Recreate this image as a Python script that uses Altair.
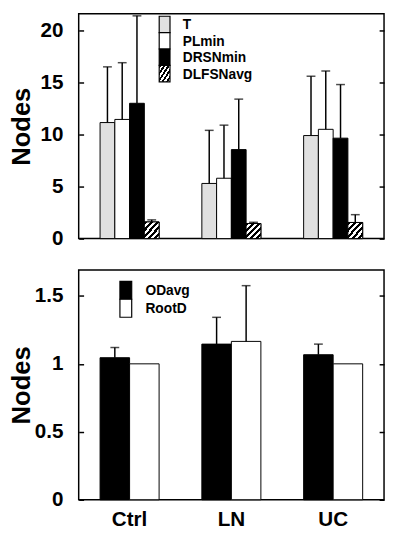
import altair as alt
import pandas as pd

FONT = "Liberation Sans"

groups = ["Ctrl", "LN", "UC"]

# Top panel
top_series = ["T", "PLmin", "DRSNmin", "DLFSNavg"]
top_colors = ["#e0e0e0", "#ffffff", "#000000", "#ffffff"]
t_mean = [11.15, 5.3, 9.9]
t_sd = [5.35, 5.1, 5.7]
pl_mean = [11.45, 5.8, 10.5]
pl_sd = [5.45, 5.1, 5.6]
drsn_mean = [13.0, 8.55, 9.65]
drsn_sd = [8.4, 4.85, 5.15]
dlfs_mean = [1.6, 1.45, 1.55]
dlfs_sd = [0.2, 0.12, 0.75]

# Bottom panel
bot_series = ["ODavg", "RootD"]
bot_colors = ["#000000", "#ffffff"]
od_mean = [1.045, 1.145, 1.067]
od_sd = [0.075, 0.197, 0.078]
root_mean = [1.0, 1.165, 1.0]
root_sd = [0.0, 0.41, 0.0]

top_ticks = [0, 5, 10, 15, 20]
bot_ticks = [0, 0.5, 1, 1.5]


def make_df(series, means, sds):
    rows = []
    for s, m, d in zip(series, means, sds):
        for g, mv, dv in zip(groups, m, d):
            rows.append({"group": g, "series": s, "mean": mv, "sd": dv, "upper": mv + dv})
    return pd.DataFrame(rows)


top_df = make_df(top_series, [t_mean, pl_mean, drsn_mean, dlfs_mean], [t_sd, pl_sd, drsn_sd, dlfs_sd])
bot_df = make_df(bot_series, [od_mean, root_mean], [od_sd, root_sd])

hatch = alt.LinearGradient(
    gradient="linear",
    x1=0, y1=0, x2=1, y2=1,
    stops=sum([[alt.GradientStop(color="black", offset=k / 5),
                alt.GradientStop(color="black", offset=(k + 0.5) / 5),
                alt.GradientStop(color="white", offset=(k + 0.5) / 5),
                alt.GradientStop(color="white", offset=(k + 1) / 5)] for k in range(5)], []),
)


def left_axis(values, fmt, height):
    return alt.Axis(orient="left", values=values, format=fmt, offset=-5, tickSize=5, tickWidth=1.5,
                    tickColor="black", domain=False, grid=False, labelFont=FONT, labelFontSize=21,
                    labelFontWeight="bold", labelColor="black", labelPadding=16, minExtent=0,
                    title="Nodes", titleFont=FONT, titleFontSize=26, titleFontWeight="bold",
                    titleColor="black", titleX=-55, titleY=height / 2, titleAngle=270,
                    titleBaseline="alphabetic", titleAlign="center")


def right_axis(values):
    return alt.Axis(orient="right", values=values, offset=-5, tickSize=5, tickWidth=1.5,
                    tickColor="black", domain=False, grid=False, labels=False, title="",
                    minExtent=0, maxExtent=0, labelPadding=0, titlePadding=0)


def panel(df, series, colors, domain_max, height, ticks, fmt, show_x, legend_spec, hatched):
    xscale = alt.Scale(domain=groups, paddingInner=0.42, paddingOuter=0.21)
    if show_x:
        xaxis = alt.Axis(labelFont=FONT, labelFontSize=21, labelFontWeight="bold", labelColor="black",
                         labelAngle=0, labelPadding=9, ticks=False, tickSize=0, domain=False,
                         minExtent=0, title=None)
        x = alt.X("group:N", scale=xscale, axis=xaxis, title="")
    else:
        x = alt.X("group:N", scale=xscale, axis=None)
    xo = alt.XOffset("series:N", scale=alt.Scale(domain=series, paddingInner=0, paddingOuter=0))
    yscale = alt.Scale(domain=[0, domain_max], nice=False, zero=True)
    base = alt.Chart(df)
    bars = base.mark_bar(stroke="black", strokeWidth=1).encode(
        x=x, xOffset=xo,
        y=alt.Y("mean:Q", scale=yscale, axis=left_axis(ticks, fmt, height)),
        fill=alt.Fill("series:N", scale=alt.Scale(domain=series, range=colors), legend=None),
    )
    layers = [bars]
    if hatched:
        hb = base.transform_filter(alt.datum.series == hatched).mark_bar(
            fill=hatch, stroke="black", strokeWidth=1).encode(
            x=x, xOffset=xo, y=alt.Y("mean:Q", scale=yscale, axis=None))
        layers.append(hb)
    errbase = base.transform_filter(alt.datum.sd > 0)
    stem = errbase.mark_rule(color="black", strokeWidth=1.5).encode(
        x=x, xOffset=xo, y=alt.Y("mean:Q", scale=yscale, axis=None), y2="upper:Q")
    cap = errbase.mark_tick(color="black", size=9, thickness=1.5).encode(
        x=x, xOffset=xo, y=alt.Y("upper:Q", scale=yscale, axis=right_axis(ticks)))
    layers += [stem, cap]

    # legend
    lx, lw, ly0, lh, tx = legend_spec
    one = alt.Data(values=[{"k": 0}])
    for i, (s, c) in enumerate(zip(series, colors)):
        fill = hatch if s == hatched else c
        rect = alt.Chart(one).mark_rect(fill=fill, stroke="black", strokeWidth=1.2).encode(
            x=alt.value(lx), x2=alt.value(lx + lw),
            y=alt.value(ly0 + i * lh), y2=alt.value(ly0 + (i + 1) * lh))
        txt = alt.Chart(one).mark_text(text=s, align="left", baseline="middle", font=FONT,
                                       fontSize=14, fontWeight="bold", color="black").encode(
            x=alt.value(tx), y=alt.value(ly0 + (i + 0.5) * lh + 1))
        layers += [rect, txt]
    return alt.layer(*layers).properties(
        width=311, height=height,
        view=alt.ViewBackground(stroke="black", strokeWidth=1.5, fill="white"),
    )


top = panel(top_df, top_series, top_colors, 21.6, 229, top_ticks, "d", False,
            (82, 11, 2.5, 16.7, 106), "DLFSNavg")
bottom = panel(bot_df, bot_series, bot_colors, 1.69, 234, bot_ticks, ".1~f", True,
               (42, 12, 11.5, 18.3, 68), None)

chart = alt.vconcat(top, bottom, spacing=32, bounds="flush").resolve_scale(
    x="independent", y="independent", xOffset="independent", fill="independent"
).properties(
    padding=0,
    background="white",
).configure_view(stroke="black", strokeWidth=1.5).configure(padding=0)

chart.save("out.html", embed_options={"renderer": "svg", "actions": False, "padding": 0})
